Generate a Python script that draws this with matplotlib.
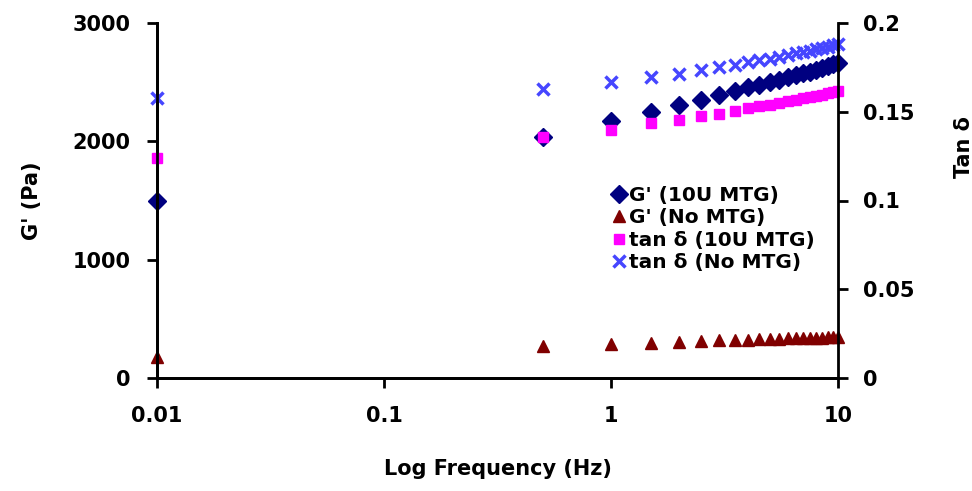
import matplotlib
matplotlib.use("Agg")
import matplotlib.pyplot as plt
from matplotlib.ticker import FixedLocator, FixedFormatter, NullLocator

plt.rcParams['font.family'] = ['DejaVu Sans']
plt.rcParams['font.weight'] = 'bold'

freq = [0.01, 0.5, 1.0, 1.5, 2.0, 2.5, 3.0, 3.5, 4.0, 4.5, 5.0,
        5.5, 6.0, 6.5, 7.0, 7.5, 8.0, 8.5, 9.0, 9.5, 10.0]
g_10u = [1500, 2035, 2170, 2250, 2305, 2350, 2390, 2425, 2455, 2480, 2500,
         2520, 2540, 2560, 2575, 2590, 2605, 2620, 2635, 2650, 2665]
g_no = [175, 270, 285, 295, 303, 312, 318, 322, 325, 328, 331,
        333, 335, 337, 339, 340, 341, 342, 343, 344, 345]
tan_10u = [0.124, 0.136, 0.140, 0.1435, 0.1455, 0.1475, 0.149, 0.1505, 0.152, 0.153, 0.154,
           0.155, 0.156, 0.1568, 0.1575, 0.1583, 0.159, 0.1597, 0.1604, 0.161, 0.1617]
tan_no = [0.158, 0.163, 0.1665, 0.1695, 0.1715, 0.1735, 0.175, 0.1765, 0.178, 0.179, 0.180,
          0.181, 0.182, 0.183, 0.1838, 0.1845, 0.1853, 0.186, 0.1867, 0.1874, 0.188]

x_ticks = [0.01, 0.1, 1, 10]
x_tick_labels = ['0.01', '0.1', '1', '10']
left_ticks = [0, 1000, 2000, 3000]
right_ticks = [0, 0.05, 0.1, 0.15, 0.2]
right_tick_labels = ['0', '0.05', '0.1', '0.15', '0.2']

fig = plt.figure(figsize=(9.72, 4.91), dpi=100)
ax = fig.add_axes([157/972, 1-378/491, (838-157)/972, (378-23)/491])
ax2 = ax.twinx()

fs = 15
h1, = ax.plot(freq, g_10u, linestyle='none', marker='D', ms=9, color='#000080',
              label="G' (10U MTG)", clip_on=False)
h2, = ax.plot(freq, g_no, linestyle='none', marker='^', ms=9, color='#800000',
              label="G' (No MTG)", clip_on=False)
h3, = ax2.plot(freq, tan_10u, linestyle='none', marker='s', ms=7.5, color='#ff00ff',
               label="tan δ (10U MTG)", clip_on=False)
h4, = ax2.plot(freq, tan_no, linestyle='none', marker='x', ms=8, mew=2.5, color='#4646ff',
               label="tan δ (No MTG)", clip_on=False)

ax.set_xscale('log')
ax.set_xlim(0.01, 10)
ax.set_ylim(0, 3000)
ax2.set_ylim(0, 0.2)
ax.xaxis.set_major_locator(FixedLocator(x_ticks))
ax.xaxis.set_major_formatter(FixedFormatter(x_tick_labels))
ax.xaxis.set_minor_locator(NullLocator())
ax.set_yticks(left_ticks)
ax.set_yticklabels([str(t) for t in left_ticks])
ax2.set_yticks(right_ticks)
ax2.set_yticklabels(right_tick_labels)

for a in (ax, ax2):
    a.spines['top'].set_visible(False)
    for s in a.spines.values():
        s.set_linewidth(2)
    a.tick_params(width=2, length=7, labelsize=fs, direction='out')
ax.tick_params(axis='y', pad=12)
ax.tick_params(axis='x', pad=13)
ax2.tick_params(axis='y', pad=11)
ax.spines['right'].set_visible(False)

ax.set_xlabel('Log Frequency (Hz)', fontsize=fs, fontweight='bold', labelpad=24)
ax.set_ylabel("G' (Pa)", fontsize=fs, fontweight='bold', labelpad=22)
ax2.set_ylabel('Tan δ', fontsize=fs, fontweight='bold')
ax2.yaxis.set_label_coords(1.17, 0.65)

leg = ax2.legend(handles=[h1, h2, h3, h4], loc='center left',
                 bbox_to_anchor=(0.67, 0.42), frameon=False,
                 fontsize=14.5, handlelength=0.6, handletextpad=0.2,
                 labelspacing=0.17, borderpad=0, borderaxespad=0)
for t in leg.get_texts():
    t.set_fontweight('bold')

fig.savefig('out.png', dpi=100)
